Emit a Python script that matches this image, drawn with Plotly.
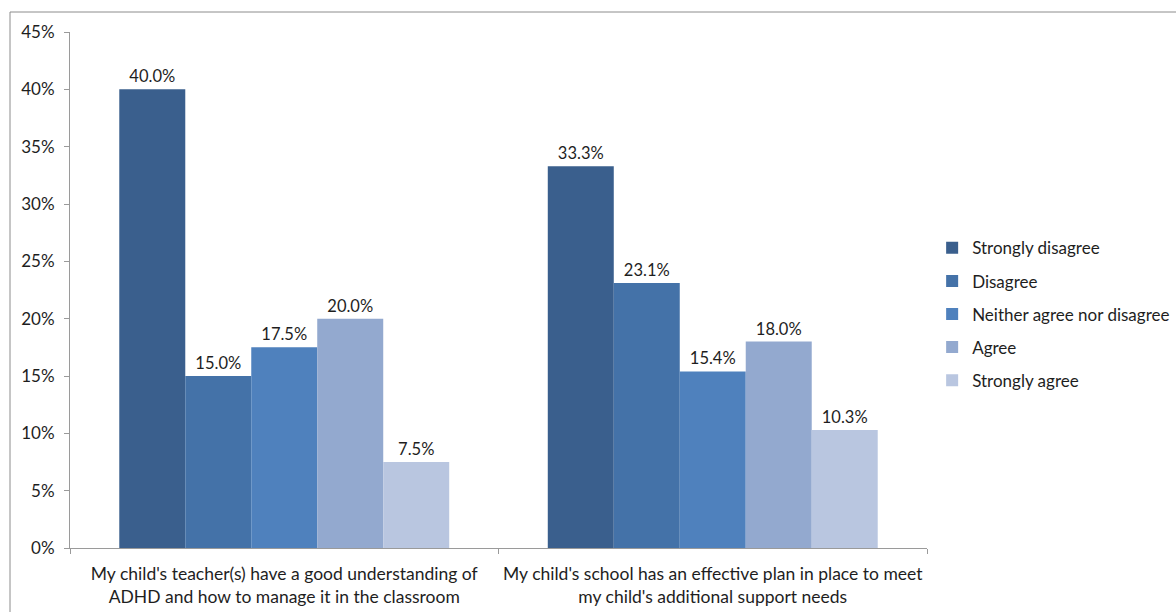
import plotly.graph_objects as go

# Survey statements (x categories)
statements = [
    "My child's teacher(s) have a good understanding of<br>ADHD and how to manage it in the classroom",
    "My child's school has an effective plan in place to meet<br>my child's additional support needs",
]

# Response options and their share of answers (%)
responses = ["Strongly disagree", "Disagree", "Neither agree nor disagree", "Agree", "Strongly agree"]
strongly_disagree = [40.0, 33.3]
disagree = [15.0, 23.1]
neither = [17.5, 15.4]
agree = [20.0, 18.0]
strongly_agree = [7.5, 10.3]

series_values = [strongly_disagree, disagree, neither, agree, strongly_agree]
colors = ["#3A5F8D", "#4472A8", "#4F81BD", "#93A9CF", "#B9C6E0"]

y_ticks = [0, 5, 10, 15, 20, 25, 30, 35, 40, 45]

FONT = "Lato, 'Open Sans', sans-serif"
TEXT_COLOR = "#1E1E1E"

fig = go.Figure()
for name, vals, col in zip(responses, series_values, colors):
    fig.add_trace(go.Bar(
        name=name,
        legendgroup=name,
        x=statements,
        y=vals,
        marker=dict(color=col, line=dict(width=0)),
        text=vals,
        texttemplate="%{y:.1f}%",
        textposition="outside",
        cliponaxis=False,
        textfont=dict(family=FONT, size=16.5, color=TEXT_COLOR),
    ))

fig.update_layout(
    width=1176,
    height=612,
    margin=dict(l=70, r=249, t=32, b=64, autoexpand=False),
    paper_bgcolor="white",
    plot_bgcolor="white",
    barmode="group",
    bargap=0.23,
    bargroupgap=0,
    font=dict(family=FONT, size=16.5, color=TEXT_COLOR),
    showlegend=True,
    legend=dict(
        x=1.006, y=0.453, xanchor="left", yanchor="middle",
        font=dict(family=FONT, size=17, color=TEXT_COLOR),
        itemwidth=30,
        traceorder="grouped",
        tracegroupgap=8,
        bgcolor="rgba(0,0,0,0)",
    ),
    xaxis=dict(
        showline=True, linecolor="#9A9A9A", linewidth=1,
        ticks="outside", ticklen=5, tickcolor="#9A9A9A",
        tickson="boundaries",
        tickangle=0,
        ticklabelstandoff=10,
        tickfont=dict(family=FONT, size=17.5, color=TEXT_COLOR),
        showgrid=False,
    ),
    yaxis=dict(
        range=[0, 45],
        tickvals=y_ticks,
        ticktext=[f"{v}%" for v in y_ticks],
        showline=True, linecolor="#9A9A9A", linewidth=1,
        ticks="outside", ticklen=5, tickcolor="#9A9A9A",
        ticklabelstandoff=6,
        showgrid=False, zeroline=False,
        tickfont=dict(family=FONT, size=17, color=TEXT_COLOR),
    ),
    shapes=[
        # outer chart frame
        dict(type="rect", xref="paper", yref="paper",
             x0=(10 - 70) / 857, x1=(1185 - 70) / 857,
             y0=(548 - 620) / 516, y1=(548 - 12) / 516,
             line=dict(color="#8C8C8C", width=1), fillcolor="rgba(0,0,0,0)",
             layer="below"),
    ],
)

fig.write_html("out.html")
